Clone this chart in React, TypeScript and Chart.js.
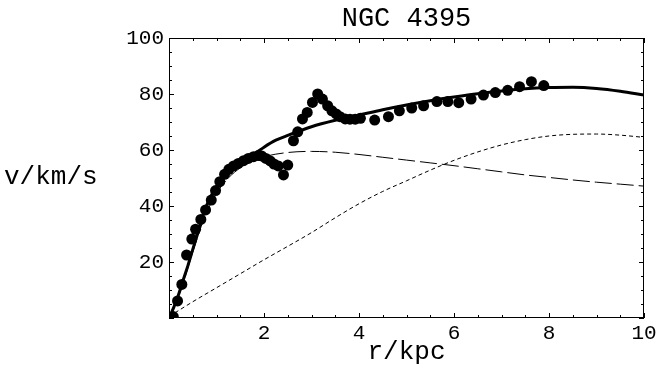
import React, { useEffect, useRef } from "react";
import { Chart, registerables } from "chart.js";

Chart.register(...registerables);

const TITLE = "NGC 4395";
const X_LABEL = "r/kpc";
const Y_LABEL = "v/km/s";
const FONT = '"Liberation Mono", "Courier New", monospace';

// observed rotation curve
const obsR = [0.09, 0.18, 0.27, 0.37, 0.48, 0.56, 0.67, 0.77, 0.89, 0.98, 1.07, 1.17, 1.26, 1.36, 1.46, 1.57, 1.67, 1.78, 1.88, 1.95, 2.04, 2.13, 2.21, 2.3, 2.41, 2.5, 2.62, 2.71, 2.81, 2.91, 3.02, 3.13, 3.23, 3.34, 3.43, 3.52, 3.6, 3.71, 3.81, 3.92, 4.03, 4.33, 4.62, 4.85, 5.11, 5.36, 5.64, 5.87, 6.1, 6.36, 6.62, 6.87, 7.13, 7.38, 7.63, 7.89];
const obsV = [0.5, 6.1, 12.0, 22.5, 28.2, 31.7, 35.2, 38.6, 42.1, 45.5, 48.7, 51.3, 53.1, 54.3, 55.2, 56.2, 57.0, 57.6, 58.0, 57.9, 57.0, 56.1, 55.0, 54.3, 51.1, 54.6, 63.3, 66.5, 71.1, 73.4, 77.0, 80.0, 78.2, 75.8, 74.0, 72.9, 71.9, 71.1, 71.0, 71.0, 71.3, 70.7, 71.9, 74.0, 75.0, 75.8, 77.3, 77.3, 76.9, 78.2, 79.6, 80.5, 81.3, 82.6, 84.4, 83.0];

// total model curve
const totalR = [0, 0.1, 0.2, 0.3, 0.4, 0.5, 0.6, 0.7, 0.8, 0.9, 1.0, 1.2, 1.4, 1.6, 1.8, 2.0, 2.25, 2.5, 3.0, 3.5, 4.0, 4.5, 5.0, 5.5, 6.0, 6.5, 7.0, 7.5, 8.0, 8.5, 9.0, 9.5, 10];
const totalV = [0, 3.8, 8.3, 13.6, 18.8, 24.5, 30.0, 36.0, 40.5, 44.0, 46.7, 51.3, 54.2, 56.6, 58.6, 61.0, 63.5, 65.2, 68.3, 70.6, 72.5, 74.4, 76.1, 77.6, 78.9, 80.1, 81.1, 81.9, 82.3, 82.4, 82.0, 81.0, 79.6];

// stellar disk (long dashes)
const diskR = [0, 0.25, 0.5, 0.75, 1.0, 1.25, 1.5, 1.75, 2.0, 2.5, 3.0, 3.5, 4.0, 4.5, 5.0, 5.5, 6.0, 6.5, 7.0, 7.5, 8.0, 8.5, 9.0, 9.5, 10];
const diskV = [0, 10, 23.5, 36.0, 44.5, 50.0, 53.6, 56.0, 57.6, 59.1, 59.5, 59.2, 58.4, 57.4, 56.4, 55.4, 54.4, 53.3, 52.2, 51.1, 50.2, 49.3, 48.5, 47.8, 47.1];

// dark halo (short dashes)
const haloR = [0, 0.5, 1.0, 1.5, 2.0, 2.5, 3.0, 3.5, 4.0, 4.5, 5.0, 5.5, 6.0, 6.5, 7.0, 7.5, 8.0, 8.5, 9.0, 9.5, 10];
const haloV = [0.5, 5.8, 10.8, 15.8, 20.8, 25.6, 30.5, 35.8, 40.8, 45.2, 49.0, 52.8, 56.3, 59.3, 61.8, 63.7, 65.0, 65.6, 65.7, 65.3, 64.5];

const X_MIN = 0, X_MAX = 10, X_STEP = 2, X_MINOR = 0.5;
const Y_MIN = 0, Y_MAX = 100, Y_STEP = 20, Y_MINOR = 5;

const pts = (xs: number[], ys: number[]) => xs.map((x, i) => ({ x, y: ys[i] }));

const framePlugin = {
  id: "frame",
  afterDraw(chart: any) {
    const { ctx, chartArea: a, scales } = chart;
    const xs = scales.x, ys = scales.y;
    ctx.save();
    ctx.strokeStyle = "#000";
    ctx.lineWidth = 1;
    ctx.strokeRect(a.left + 0.5, a.top + 0.5, a.right - a.left - 1, a.bottom - a.top - 1);
    ctx.beginPath();
    for (let v = X_MIN; v <= X_MAX + 1e-9; v += X_MINOR) {
      const px = Math.round(xs.getPixelForValue(v)) + 0.5;
      const major = Math.abs(v / X_STEP - Math.round(v / X_STEP)) < 1e-6;
      const len = major ? 5 : 3;
      ctx.moveTo(px, a.bottom);
      ctx.lineTo(px, a.bottom - len);
      ctx.moveTo(px, a.top);
      ctx.lineTo(px, a.top + len);
    }
    for (let v = Y_MIN; v <= Y_MAX + 1e-9; v += Y_MINOR) {
      const py = Math.round(ys.getPixelForValue(v)) + 0.5;
      const major = Math.abs(v / Y_STEP - Math.round(v / Y_STEP)) < 1e-6;
      const len = major ? 5 : 3;
      ctx.moveTo(a.left, py);
      ctx.lineTo(a.left + len, py);
      ctx.moveTo(a.right, py);
      ctx.lineTo(a.right - len, py);
    }
    ctx.stroke();
    ctx.fillStyle = "#000";
    ctx.font = `26px ${FONT}`;
    ctx.textAlign = "left";
    ctx.textBaseline = "alphabetic";
    ctx.fillText(Y_LABEL, 4, 184);
    ctx.restore();
  },
};

export default function App() {
  const ref = useRef<HTMLCanvasElement | null>(null);
  useEffect(() => {
    if (!ref.current) return;
    const chart = new Chart(ref.current, {
      type: "scatter",
      data: {
        datasets: [
          {
            label: "data",
            data: pts(obsR, obsV),
            backgroundColor: "#000",
            borderColor: "#000",
            pointRadius: 5.5,
            pointBorderWidth: 0,
            showLine: false,
          } as any,
          {
            label: "total",
            data: pts(totalR, totalV),
            showLine: true,
            borderColor: "#000",
            borderWidth: 3,
            pointRadius: 0,
            cubicInterpolationMode: "monotone",
          },
          {
            label: "disk",
            data: pts(diskR, diskV),
            showLine: true,
            borderColor: "#000",
            borderWidth: 1,
            borderDash: [17, 5],
            pointRadius: 0,
            cubicInterpolationMode: "monotone",
          },
          {
            label: "halo",
            data: pts(haloR, haloV),
            showLine: true,
            borderColor: "#000",
            borderWidth: 1,
            borderDash: [4, 3],
            pointRadius: 0,
            cubicInterpolationMode: "monotone",
          },
        ],
      },
      options: {
        responsive: false,
        animation: false,
        layout: { padding: { left: 0, right: 26, top: 0, bottom: 0 } },
        plugins: {
          legend: { display: false },
          tooltip: { enabled: false },
          title: {
            display: true,
            text: TITLE,
            fullSize: false,
            color: "#000",
            font: { family: FONT, size: 27, weight: "normal" },
            padding: { top: 2.4, bottom: 3.2 },
          },
        },
        scales: {
          x: {
            type: "linear",
            min: X_MIN,
            max: X_MAX,
            grid: { display: false, drawTicks: false },
            border: { display: false },
            ticks: {
              stepSize: X_STEP,
              padding: 3,
              color: "#000",
              font: { family: FONT, size: 21 },
              callback: (v: any) => (v === 0 ? "" : String(v)),
            },
            title: {
              display: true,
              text: X_LABEL,
              color: "#000",
              font: { family: FONT, size: 26 },
              padding: { top: 0, bottom: 6 },
            },
            afterFit: (s: any) => {
              s.height = 56;
            },
          },
          y: {
            type: "linear",
            min: Y_MIN,
            max: Y_MAX,
            grid: { display: false, drawTicks: false },
            border: { display: false },
            ticks: {
              stepSize: Y_STEP,
              padding: 5,
              color: "#000",
              font: { family: FONT, size: 21 },
              callback: (v: any) => (v === 0 ? "" : String(v)),
            },
            afterFit: (s: any) => {
              s.width = 169;
            },
          },
        },
      },
      plugins: [framePlugin],
    });
    return () => chart.destroy();
  }, []);
  return (
    <div style={{ position: "absolute", left: 0, top: 0, width: 670, height: 374, background: "#fff" }}>
      <canvas ref={ref} width={670} height={374} style={{ display: "block" }} />
    </div>
  );
}
